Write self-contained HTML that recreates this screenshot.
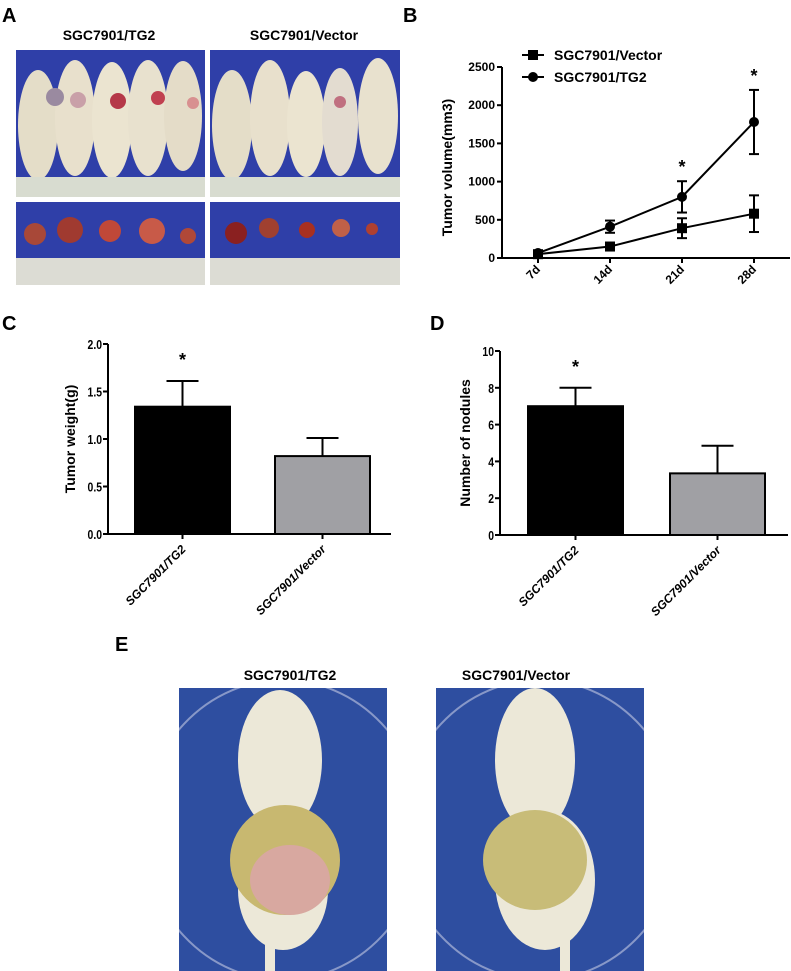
<!DOCTYPE html>
<html><head><meta charset="utf-8"><style>
body{margin:0;background:#fff}
svg{display:block;font-family:"Liberation Sans",Arial,sans-serif}
</style></head><body>
<svg id="fig" width="791" height="971" viewBox="0 0 791 971" xmlns="http://www.w3.org/2000/svg">
<defs>
<clipPath id="clipE1"><rect x="179" y="688" width="208" height="283"/></clipPath>
<clipPath id="clipE2"><rect x="436" y="688" width="208" height="283"/></clipPath>
</defs>
<!-- Panel A -->
<g>
<text x="2" y="22" font-size="20" font-weight="bold">A</text>
<text x="109" y="40" font-size="14" font-weight="bold" text-anchor="middle">SGC7901/TG2</text>
<text x="304" y="40" font-size="14" font-weight="bold" text-anchor="middle">SGC7901/Vector</text>
<g>
<rect x="16" y="50" width="189" height="127" fill="#2f3fa8"/>
<ellipse cx="38" cy="125" rx="20" ry="55" fill="#e4ddc8"/><ellipse cx="75" cy="118" rx="20" ry="58" fill="#e8e0cc"/><ellipse cx="112" cy="120" rx="20" ry="58" fill="#ebe4d0"/><ellipse cx="148" cy="118" rx="20" ry="58" fill="#e8e1ce"/><ellipse cx="183" cy="116" rx="19" ry="55" fill="#e4dcc8"/>
<circle cx="55" cy="97" r="9" fill="#9a8aa0"/><circle cx="78" cy="100" r="8" fill="#c9a0a8"/><circle cx="118" cy="101" r="8" fill="#b53848"/><circle cx="158" cy="98" r="7" fill="#c04050"/><circle cx="193" cy="103" r="6" fill="#d89090"/>
<rect x="16" y="177" width="189" height="20" fill="#d8dcd0"/>
</g>
<g>
<rect x="210" y="50" width="190" height="127" fill="#2f3fa8"/>
<ellipse cx="232" cy="125" rx="20" ry="55" fill="#e4ddc8"/><ellipse cx="270" cy="118" rx="20" ry="58" fill="#e8e0cc"/><ellipse cx="306" cy="124" rx="19" ry="53" fill="#ebe4d0"/><ellipse cx="340" cy="122" rx="18" ry="54" fill="#e3dcd0"/><ellipse cx="378" cy="116" rx="20" ry="58" fill="#e8e1ce"/>
<circle cx="340" cy="102" r="6" fill="#c07080"/>
<rect x="210" y="177" width="190" height="20" fill="#d8dcd0"/>
</g>
<g>
<rect x="16" y="202" width="189" height="56" fill="#2f3fa8"/>
<circle cx="35" cy="234" r="11" fill="#a84838"/><circle cx="70" cy="230" r="13" fill="#a03a30"/><circle cx="110" cy="231" r="11" fill="#c04838"/><circle cx="152" cy="231" r="13" fill="#c85a48"/><circle cx="188" cy="236" r="8" fill="#b04838"/>
<rect x="16" y="258" width="189" height="27" fill="#dcdcd4"/>
</g>
<g>
<rect x="210" y="202" width="190" height="56" fill="#2f3fa8"/>
<circle cx="236" cy="233" r="11" fill="#8a2020"/><circle cx="269" cy="228" r="10" fill="#a04030"/><circle cx="307" cy="230" r="8" fill="#a83020"/><circle cx="341" cy="228" r="9" fill="#c06048"/><circle cx="372" cy="229" r="6" fill="#b04030"/>
<rect x="210" y="258" width="190" height="27" fill="#dcdcd4"/>
</g>
</g>
<text x="403" y="22" font-size="20" font-weight="bold">B</text>
<g id="chartB"></g>
<text x="2" y="330" font-size="20" font-weight="bold">C</text>
<g id="chartC"></g>
<text x="430" y="330" font-size="20" font-weight="bold">D</text>
<g id="chartD"></g>
<!-- Panel E -->
<g>
<text x="115" y="651" font-size="20" font-weight="bold">E</text>
<text x="290" y="680" font-size="14" font-weight="bold" text-anchor="middle">SGC7901/TG2</text>
<text x="516" y="680" font-size="14" font-weight="bold" text-anchor="middle">SGC7901/Vector</text>
<g clip-path="url(#clipE1)">
<rect x="179" y="688" width="208" height="283" fill="#2e4ea0"/>
<ellipse cx="283" cy="830" rx="140" ry="150" fill="none" stroke="#8898c8" stroke-width="2"/>
<ellipse cx="280" cy="760" rx="42" ry="70" fill="#ece8d8"/>
<ellipse cx="283" cy="890" rx="45" ry="60" fill="#ece8d8"/>
<ellipse cx="285" cy="860" rx="55" ry="55" fill="#c8b870"/>
<ellipse cx="290" cy="880" rx="40" ry="35" fill="#d8a8a0"/>
<rect x="265" y="930" width="10" height="41" fill="#ece8d8"/>
</g>
<g clip-path="url(#clipE2)">
<rect x="436" y="688" width="208" height="283" fill="#2e4ea0"/>
<ellipse cx="540" cy="830" rx="140" ry="150" fill="none" stroke="#8898c8" stroke-width="2"/>
<ellipse cx="535" cy="760" rx="40" ry="72" fill="#ece8d8"/>
<ellipse cx="545" cy="880" rx="50" ry="70" fill="#ece8d8"/>
<ellipse cx="535" cy="860" rx="52" ry="50" fill="#c8bc78"/>
<rect x="560" y="930" width="10" height="41" fill="#ece8d8"/>
</g>
</g>
</svg>
<script>
const NS="http://www.w3.org/2000/svg";
function mk(p,t,a,txt){const e=document.createElementNS(NS,t);for(const k in a)e.setAttribute(k,a[k]);if(txt!==undefined)e.textContent=txt;p.appendChild(e);return e;}

// Chart B data
const bDays=["7d","14d","21d","28d"];
const bVector=[50,150,390,580];
const bVectorErr=[15,50,130,240];
const bTG2=[65,410,800,1780];
const bTG2Err=[20,80,205,420];
const bTicks=[0,500,1000,1500,2000,2500];
const bSig=[false,false,true,true];

// Chart C data
const cCats=["SGC7901/TG2","SGC7901/Vector"];
const cVals=[1.34,0.82];
const cErr=[0.27,0.19];
const cTicks=[0,0.5,1.0,1.5,2.0];
const cSig=[true,false];

// Chart D data
const dCats=["SGC7901/TG2","SGC7901/Vector"];
const dVals=[7,3.35];
const dErr=[1,1.5];
const dTicks=[0,2,4,6,8,10];
const dSig=[true,false];

(function(){
const g=document.getElementById('chartB');
const x0=502,x1=790,yb=258,yt=67,max=2500;
const y=v=>yb-(v/max)*(yb-yt);
const xs=[538,611,682,754];
const xi=i=>xs[0]+i*(xs[3]-xs[0])/(bDays.length-1);
let l=mk(g,'line',{x1:x0,y1:yt,x2:x0,y2:yb,stroke:'#000','stroke-width':2});


l=mk(g,'line',{x1:x0,y1:yb,x2:x1,y2:yb,stroke:'#000','stroke-width':2});


bTicks.forEach(v=>{
 mk(g,'line',{x1:x0-5,y1:y(v),x2:x0,y2:y(v),stroke:'#000','stroke-width':2});
 const t=mk(g,'text',{x:x0-7,y:y(v)+4,'font-size':12,'font-weight':'bold','text-anchor':'end'},String(v));
 
 
});
bDays.forEach((d,i)=>{
 mk(g,'line',{x1:xi(i),y1:yb,x2:xi(i),y2:yb+5,stroke:'#000','stroke-width':2});
 const t=mk(g,'text',{x:xi(i)+3,y:yb+12,'font-size':12,'font-weight':'bold','text-anchor':'end',transform:`rotate(-45 ${xi(i)+3} ${yb+12})`},d);
 
 
});
const yt2=mk(g,'text',{x:0,y:0,'font-size':14,'font-weight':'bold','text-anchor':'middle',transform:`translate(452 ${(yb+yt)/2+5}) rotate(-90)`},'Tumor volume(mm3)');


function series(vals,errs,name,circle){
 const pts=vals.map((v,i)=>xi(i)+','+y(v)).join(' ');
 const pl=mk(g,'polyline',{points:pts,fill:'none',stroke:'#000','stroke-width':2});
 
 
 vals.forEach((v,i)=>{
  const cx=xi(i);
  mk(g,'line',{x1:cx,y1:y(v-errs[i]),x2:cx,y2:y(v+errs[i]),stroke:'#000','stroke-width':2});
  mk(g,'line',{x1:cx-5,y1:y(v+errs[i]),x2:cx+5,y2:y(v+errs[i]),stroke:'#000','stroke-width':2});
  mk(g,'line',{x1:cx-5,y1:y(v-errs[i]),x2:cx+5,y2:y(v-errs[i]),stroke:'#000','stroke-width':2});
  const m=circle?mk(g,'circle',{cx:cx,cy:y(v),r:5,fill:'#000'}):mk(g,'rect',{x:cx-5,y:y(v)-5,width:10,height:10,fill:'#000'});
  
  
 });
}
series(bVector,bVectorErr,'vector',false);
series(bTG2,bTG2Err,'tg2',true);
bSig.forEach((s,i)=>{if(s){const t=mk(g,'text',{x:xi(i),y:y(bTG2[i]+bTG2Err[i])-8,'font-size':18,'font-weight':'bold','text-anchor':'middle'},'*');
 
 }});
// legend
[['SGC7901/Vector',55,false],['SGC7901/TG2',77,true]].forEach(([n,ly,c])=>{
 mk(g,'line',{x1:522,y1:ly,x2:544,y2:ly,stroke:'#000','stroke-width':2});
 if(c)mk(g,'circle',{cx:533,cy:ly,r:5,fill:'#000'});else mk(g,'rect',{x:528,y:ly-5,width:10,height:10,fill:'#000'});
 const t=mk(g,'text',{x:554,y:ly+5,'font-size':14,'font-weight':'bold'},n);
 
 
});
})();

function barChart(id,cats,vals,errs,ticks,sig,o){
 const g=document.getElementById(id);
 const max=ticks[ticks.length-1];
 const y=v=>o.yb-(v/max)*(o.yb-o.yt);
 let l=mk(g,'line',{x1:o.x0,y1:o.yt,x2:o.x0,y2:o.yb,stroke:'#000','stroke-width':2});
 
 
 l=mk(g,'line',{x1:o.x0,y1:o.yb,x2:o.x1,y2:o.yb,stroke:'#000','stroke-width':2});
 
 
 ticks.forEach(v=>{
  mk(g,'line',{x1:o.x0-5,y1:y(v),x2:o.x0,y2:y(v),stroke:'#000','stroke-width':2});
  const t=mk(g,'text',{x:o.x0-6,y:y(v)+5,'font-size':13,'font-weight':'bold','text-anchor':'end',transform:`translate(${(o.x0-6)*0.2} 0) scale(0.8 1)`},o.fmt(v));
  
  
 });
 const yt=mk(g,'text',{x:0,y:0,'font-size':14,'font-weight':'bold','text-anchor':'middle',transform:`translate(${o.tx} ${(o.yb+o.yt)/2}) rotate(-90)`},o.title);
 
 
 cats.forEach((c,i)=>{
  const bx=o.bx[0]+i*(o.bx[1]-o.bx[0]);
  const cx=bx+o.bw/2;
  const b=mk(g,'rect',{x:bx,y:y(vals[i]),width:o.bw,height:o.yb-y(vals[i]),fill:i===0?'#000':'#a0a0a4',stroke:'#000','stroke-width':2});
  
  
  mk(g,'line',{x1:cx,y1:y(vals[i]),x2:cx,y2:y(vals[i]+errs[i]),stroke:'#000','stroke-width':2});
  mk(g,'line',{x1:cx-16,y1:y(vals[i]+errs[i]),x2:cx+16,y2:y(vals[i]+errs[i]),stroke:'#000','stroke-width':2});
  mk(g,'line',{x1:cx,y1:o.yb,x2:cx,y2:o.yb+5,stroke:'#000','stroke-width':2});
  const t=mk(g,'text',{x:cx+4,y:o.yb+16,'font-size':12,'font-weight':'bold','font-style':'italic','text-anchor':'end',transform:`rotate(-45 ${cx+4} ${o.yb+16})`},c);
  
  
  if(sig[i]){const s=mk(g,'text',{x:cx,y:y(vals[i]+errs[i])-15,'font-size':18,'font-weight':'bold','text-anchor':'middle'},'*');
   
   }
 });
}
barChart('chartC',cCats,cVals,cErr,cTicks,cSig,{x0:108,x1:391,yb:534,yt:344,bx:[135,275],bw:95,tx:75,title:'Tumor weight(g)',fmt:v=>v.toFixed(1)});
barChart('chartD',dCats,dVals,dErr,dTicks,dSig,{x0:500,x1:788,yb:535,yt:351,bx:[528,670],bw:95,tx:470,title:'Number of nodules',fmt:v=>String(v)});
</script>
</body></html>
